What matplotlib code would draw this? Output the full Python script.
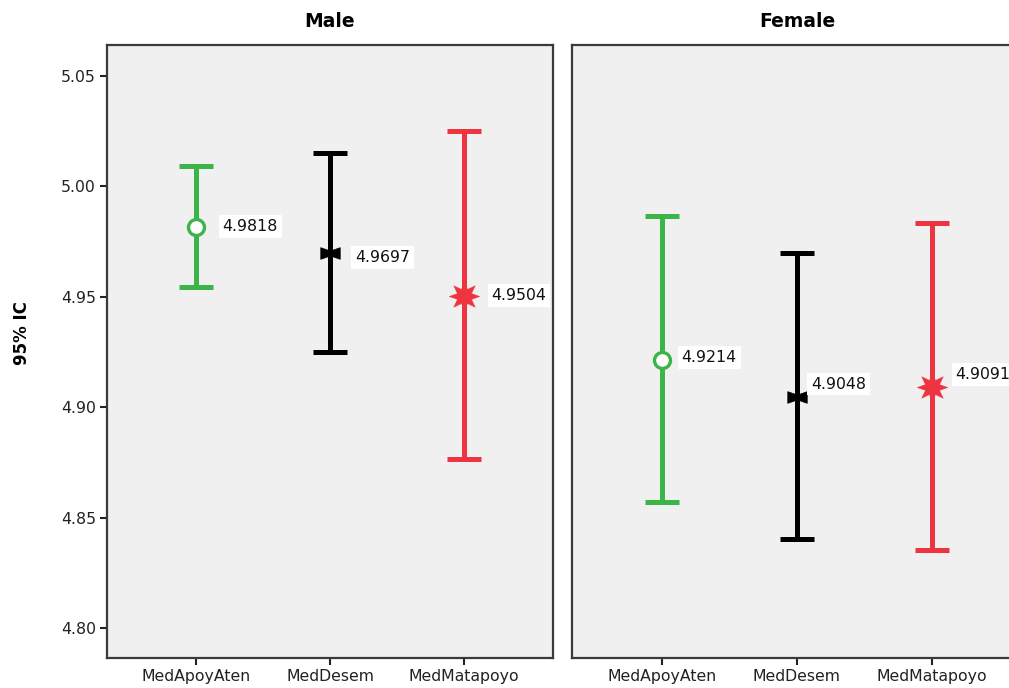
import matplotlib
matplotlib.use("Agg")
import matplotlib.pyplot as plt
from matplotlib.path import Path
import numpy as np

# ---- data ----
categories = ["MedApoyAten", "MedDesem", "MedMatapoyo"]
panels = ["Male", "Female"]
male_means = [4.9818, 4.9697, 4.9504]
male_lower = [4.9544, 4.9250, 4.8765]
male_upper = [5.0092, 5.0151, 5.0251]
female_means = [4.9214, 4.9048, 4.9091]
female_lower = [4.8570, 4.8402, 4.8353]
female_upper = [4.9866, 4.9698, 4.9834]
yticks = [4.80, 4.85, 4.90, 4.95, 5.00, 5.05]
ylabel = "95% IC"

# ---- styles ----
colors = ["#3BB54A", "#000000", "#EE3440"]
bowtie = Path([(-1, -0.6), (-1, 0.6), (0, 0.25), (1, 0.6), (1, -0.6), (0, -0.25), (-1, -0.6)],
              [Path.MOVETO, Path.LINETO, Path.LINETO, Path.LINETO, Path.LINETO,
               Path.LINETO, Path.CLOSEPOLY])
marker_styles = [
    dict(marker="o", markersize=11.5, markerfacecolor="white", markeredgewidth=2.4),
    dict(marker=bowtie, markersize=14, markeredgewidth=0.5),
    dict(marker=(8, 1, 0), markersize=22, markeredgewidth=0.3),
]
label_offsets = {
    "Male": [(19, 0), (18, -3), (20, 0)],
    "Female": [(14, 2), (10, 9), (17, 9)],
}

fig = plt.figure(figsize=(10.09, 6.88), dpi=100)
fig.patch.set_facecolor("white")
W, H = 1009, 688
axes_px = [(107, 45, 446, 613), (572, 45, 450, 613)]

data = {
    "Male": (male_means, male_lower, male_upper),
    "Female": (female_means, female_lower, female_upper),
}

tick_font = dict(family="DejaVu Sans", size=11.3)
for i, (panel, (x0, y0, w, h)) in enumerate(zip(panels, axes_px)):
    ax = fig.add_axes([x0 / W, 1 - (y0 + h) / H, w / W, h / H])
    ax.set_facecolor("#F0F0F0")
    means, lower, upper = data[panel]
    xs = np.arange(len(categories))
    for j in range(len(categories)):
        m, lo, hi = means[j], lower[j], upper[j]
        ax.errorbar(xs[j], m, yerr=[[m - lo], [hi - m]], fmt="none",
                    ecolor=colors[j], elinewidth=3.6, capsize=12.2, capthick=3.6,
                    zorder=2)
        ax.plot(xs[j], m, linestyle="none", color=colors[j],
                markeredgecolor=colors[j], zorder=3, **marker_styles[j])
        dx, dy = label_offsets[panel][j]
        ax.annotate(f"{m:.4f}", (xs[j], m), xytext=(dx, dy), textcoords="offset points",
                    ha="left", va="center", fontsize=11.3, family="DejaVu Sans",
                    color="#111111",
                    bbox=dict(boxstyle="square,pad=0.25", fc="white", ec="none"),
                    zorder=4)
    ax.set_xlim(-0.667, 2.667)
    ax.set_ylim(4.7864, 5.064)
    ax.set_xticks(xs)
    ax.set_xticklabels(categories, **tick_font)
    ax.tick_params(axis="both", direction="out", length=5, width=1.5, color="#222222",
                   labelcolor="#222222", pad=3)
    for sp in ax.spines.values():
        sp.set_linewidth(1.6)
        sp.set_color("#3a3a3a")
    if i == 0:
        ax.set_yticks(yticks)
        ax.set_yticklabels([f"{v:.2f}" for v in yticks], **tick_font)
        ax.set_ylabel(ylabel, fontsize=12, fontweight="bold", family="DejaVu Sans")
        ax.yaxis.set_label_coords(-0.17, 0.53)
    else:
        ax.set_yticks([])
    ax.set_title(panel, fontsize=13.5, fontweight="bold", family="DejaVu Sans", pad=13)

fig.savefig("out.png", dpi=100)
